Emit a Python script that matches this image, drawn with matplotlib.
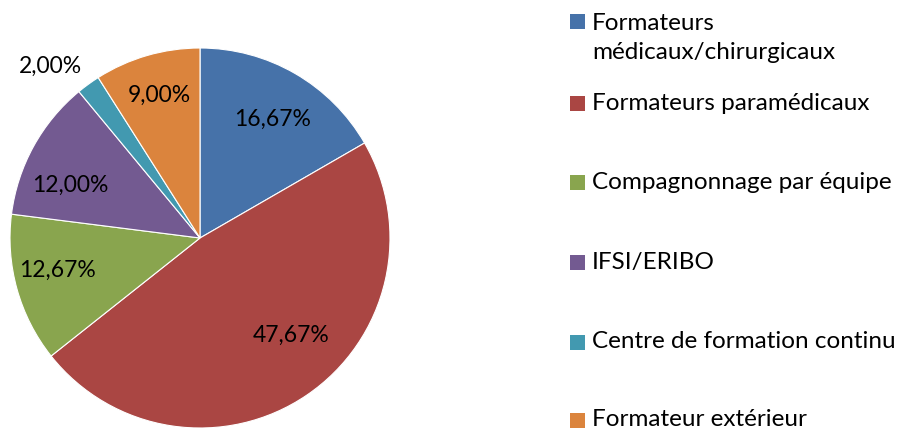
import numpy as np
import matplotlib
matplotlib.use("Agg")
import matplotlib.pyplot as plt
from matplotlib.patches import Rectangle

categories = ["Formateurs\nmédicaux/chirurgicaux", "Formateurs paramédicaux",
              "Compagnonnage par équipe", "IFSI/ERIBO",
              "Centre de formation continu", "Formateur extérieur"]
values = [16.67, 47.67, 12.67, 12.00, 2.00, 9.00]
colors = ["#4672A9", "#AA4643", "#89A54E", "#735A91", "#4299B0", "#DB843D"]

plt.rcParams['font.family'] = ['Lato', 'DejaVu Sans']
W, H = 904, 434
fig = plt.figure(figsize=(W / 100, H / 100), dpi=100)
cx, cy, r = 200, 238, 190
ax = fig.add_axes([(cx - r) / W, (H - cy - r) / H, 2 * r / W, 2 * r / H])

wedges, texts, autotexts = ax.pie(
    values, colors=colors, startangle=90, counterclock=False, radius=1,
    autopct=lambda p: f"{p:.2f}".replace(".", ",") + "%", pctdistance=0.74,
    wedgeprops=dict(edgecolor="white", linewidth=0.8),
    textprops=dict(fontsize=16.5, color="black"))
ax.set_xlim(-1, 1)
ax.set_ylim(-1, 1)
ax.set_aspect('auto')
ax.axis('off')

# nudge labels to mimic Excel placement
def polar(rad, deg):
    a = np.deg2rad(deg)
    return rad * np.cos(a), rad * np.sin(a)
autotexts[0].set_position(polar(0.73, 58.6))
autotexts[1].set_position(polar(0.70, -47))
autotexts[2].set_position(polar(0.77, 192.7))
autotexts[3].set_position(polar(0.74, 157.8))
autotexts[4].set_position(polar(1.20, 131))
autotexts[5].set_position(polar(0.78, 106))

# legend
centers = [38, 103, 182, 262, 342, 420]
for lab, col, yc in zip(categories, colors, centers):
    sq_y = 21 if '\n' in lab else yc
    fig.add_artist(Rectangle((570 / W, 1 - (sq_y + 8) / H), 15 / W, 15 / H,
                             transform=fig.transFigure, facecolor=col, edgecolor='none'))
    fig.text(592 / W, 1 - yc / H, lab, fontsize=17.5, va='center',
             ha='left', linespacing=1.45)

fig.savefig("out.png", dpi=100)
